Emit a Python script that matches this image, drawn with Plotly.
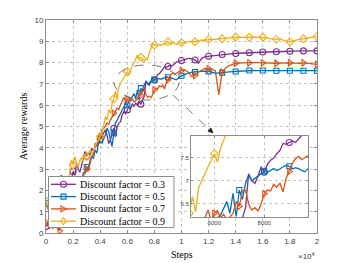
import plotly.graph_objects as go

# ---------------- data ----------------
steps = list(range(0, 10001, 125)) + list(range(10250, 20001, 250))

reward_03 = [
    0.3, 0.5, 0.2, 0.6, 0.4, 0.8, 1.0, 1.4,
    1.8, 2.73, 2.5, 2.2, 2.4, 2.3, 2.6, 2.5,
    2.89, 2.7, 3.28, 3.0, 2.85, 3.2, 3.4, 3.83,
    3.6, 3.75, 3.7, 3.98, 3.85, 4.05, 4.1, 4.3,
    4.4, 4.53, 4.7, 4.84, 4.6, 4.2, 4.37, 4.7,
    4.92, 4.5, 5.0, 5.15, 5.23, 5.55, 5.7, 5.6,
    5.78, 5.95, 5.85, 6.05, 5.95, 6.1, 6.0, 6.15,
    6.05, 6.2, 6.42, 7.15, 7.0, 6.94, 7.1, 7.3,
    7.18, 7.35, 7.44, 7.48, 7.58, 7.65, 7.8, 7.78,
    7.82, 7.86, 7.82, 7.9, 7.97, 8.02, 8.05, 8.08,
    8.1,
    8.15, 8.2, 8.18, 8.12,
    7.97, 8.2, 8.28, 8.3,
    8.32, 8.34, 8.36, 8.38,
    8.39, 8.41, 8.42, 8.43,
    8.44, 8.45, 8.46, 8.46,
    8.47, 8.48, 8.49, 8.5,
    8.5, 8.5, 8.51, 8.51,
    8.52, 8.52, 8.53, 8.53,
    8.54, 8.54, 8.55, 8.55,
    8.55, 8.55, 8.55, 8.55,
]

reward_05 = [
    1.4, 1.2, 0.9, 1.1, 0.8, 1.0, 1.2, 0.9,
    1.1, 1.4, 1.3, 1.6, 1.5, 1.8, 1.7, 2.0,
    2.2, 2.1, 2.4, 2.3, 2.6, 2.5, 2.8, 2.9,
    3.1, 3.0, 3.4, 3.59, 3.5, 3.9, 3.75, 4.2,
    4.35, 4.69, 4.4, 4.6, 4.92, 4.75, 4.4, 4.06,
    4.7, 5.16, 5.3, 5.47, 5.6, 5.8, 5.95, 6.09,
    6.0, 6.2, 6.26, 6.41, 6.55, 6.3, 6.73, 6.23,
    6.8, 6.6, 6.94, 7.12, 7.0, 7.05, 7.1, 7.16,
    7.2, 7.18, 7.23, 7.26, 7.22, 7.25, 7.3, 7.33,
    7.31, 7.25, 7.28, 7.26, 7.22, 7.19, 7.26, 7.34,
    7.38,
    7.45, 7.5, 7.55, 7.56,
    7.58, 7.57, 7.6, 7.59,
    7.55, 7.5, 7.52, 7.52,
    7.54, 7.56, 7.57, 7.58,
    7.6, 7.62, 7.63, 7.63,
    7.63, 7.62, 7.62, 7.63,
    7.63, 7.62, 7.62, 7.62,
    7.63, 7.63, 7.62, 7.62,
    7.62, 7.63, 7.63, 7.62,
    7.62, 7.63, 7.62, 7.62,
]

reward_07 = [
    0.5, 0.3, 0.6, 0.4, 0.2, 0.5, 0.3, 0.2,
    0.1, 0.4, 0.7, 0.9, 1.2, 1.1, 1.5, 1.7,
    1.9, 2.1, 2.3, 2.2, 2.5, 2.45, 2.7, 2.81,
    3.0, 2.9, 3.3, 3.59, 3.7, 4.22, 4.1, 4.4,
    4.5, 4.84, 4.9, 5.0, 5.16, 5.1, 5.3, 5.45,
    5.62, 5.7, 5.86, 5.8, 6.05, 6.2, 6.37, 6.15,
    6.3, 6.36, 6.2, 6.28, 6.15, 6.22, 6.3, 6.55,
    6.45, 6.78, 6.8, 6.5, 6.37, 6.42, 6.35, 6.5,
    6.72, 6.8, 6.78, 6.92, 6.86, 6.95, 6.76, 7.05,
    7.2, 7.38, 7.47, 7.52, 7.45, 7.5, 7.56, 7.6,
    7.63,
    7.66, 7.55, 7.34, 7.4,
    7.55, 7.65, 7.73, 7.7,
    7.68, 7.62, 6.48, 7.55,
    7.75, 7.85, 7.92, 7.97,
    7.98, 7.99, 8.0, 7.99,
    8.0, 8.01, 8.0, 7.99,
    7.97, 7.96, 7.97, 7.97,
    7.98, 7.99, 7.98, 7.99,
    7.98, 7.97, 7.96, 7.99,
    7.97, 7.95, 7.93, 7.92,
]

reward_09 = [
    1.5, 1.3, 1.1, 1.4, 1.2, 1.6, 1.4, 1.8,
    1.6, 2.0, 1.9, 2.2, 2.4, 2.2, 2.9, 3.44,
    3.2, 3.59, 3.3, 3.1, 3.4, 3.55, 3.35, 3.6,
    3.59, 3.75, 3.9, 3.7, 3.85, 4.1, 4.22, 4.4,
    4.53, 4.7, 5.0, 5.47, 5.3, 5.78, 5.62, 6.09,
    6.3, 6.66, 6.33, 6.85, 7.01, 7.16, 7.3, 7.44,
    7.58, 7.4, 7.7, 7.87, 8.0, 8.2, 8.36, 8.2,
    8.25, 8.1, 8.05, 8.2, 8.15, 8.45, 8.7, 8.9,
    8.82, 8.85, 8.78, 8.85, 8.8, 8.88, 8.85, 8.95,
    8.98, 8.9, 8.85, 8.95, 8.88, 8.85, 8.9, 8.93,
    8.94,
    8.92, 8.98, 9.0, 8.98,
    9.02, 9.06, 9.05, 9.09,
    9.08, 9.1, 9.12, 9.12,
    9.15, 9.17, 9.18, 9.19,
    9.18, 9.19, 9.2, 9.19,
    9.2, 9.19, 9.19, 9.19,
    9.17, 9.13, 9.1, 9.09,
    9.12, 9.05, 9.0, 8.98,
    9.03, 9.08, 9.1, 9.12,
    9.15, 9.2, 9.21, 9.22,
]

series_labels = ["Discount factor = 0.3", "Discount factor = 0.5",
                 "Discount factor = 0.7", "Discount factor = 0.9"]
x_tickvals = [0, 2000, 4000, 6000, 8000, 10000, 12000, 14000, 16000, 18000, 20000]
x_ticktext = ["0", "0.2", "0.4", "0.6", "0.8", "1", "1.2", "1.4", "1.6", "1.8", "2"]
marker_every = 1000

# ---------------- style ----------------
colors = ["#7E2F8E", "#0072BD", "#D95319", "#EDB120"]
symbols = ["circle-open", "square-open", "triangle-right-open", "diamond-open"]
msizes = [6, 5, 6, 6]
series = [reward_03, reward_05, reward_07, reward_09]

W, H = 350, 263
ML, MR, MT, MB = 46, 33, 20, 30
PW, PH = W - ML - MR, H - MT - MB


def X(px):
    return (px - ML) / PW


def Y(py):
    return (H - MB - py) / PH


fig = go.Figure()

for axes in [("x", "y"), ("x2", "y2")]:
    for vals, col, sym, ms in zip(series, colors, symbols, msizes):
        fig.add_trace(go.Scatter(x=steps, y=vals, mode="lines",
                                 line=dict(color=col, width=1.3),
                                 xaxis=axes[0], yaxis=axes[1], showlegend=False,
                                 hoverinfo="skip"))
        mx = [s for s in steps if s % marker_every == 0]
        my = [v for s, v in zip(steps, vals) if s % marker_every == 0]
        fig.add_trace(go.Scatter(x=mx, y=my, mode="markers",
                                 marker=dict(symbol=sym, size=ms, color=col,
                                             line=dict(color=col, width=1.1)),
                                 xaxis=axes[0], yaxis=axes[1], showlegend=False,
                                 hoverinfo="skip"))

axis_common = dict(showline=True, mirror="ticks", linecolor="#8c8c8c", linewidth=1,
                   ticks="inside", ticklen=3, tickcolor="#8c8c8c",
                   showgrid=True, gridcolor="#c4c4c4", griddash="dot", gridwidth=1,
                   zeroline=False, tickfont=dict(family="Liberation Sans, Arial", size=8,
                                                 color="#404040"))

fig.update_layout(
    width=W, height=H,
    margin=dict(l=ML, r=MR, t=MT, b=MB),
    paper_bgcolor="#ffffff", plot_bgcolor="#fffffe",
    showlegend=False,
    xaxis=dict(range=[0, 20000], tickvals=x_tickvals, ticktext=x_ticktext,
               domain=[0, 1], anchor="y", **axis_common),
    yaxis=dict(range=[0, 10], dtick=1, domain=[0, 1], anchor="x", **axis_common),
)

inset_common = dict(axis_common)
inset_common["tickfont"] = dict(family="Liberation Sans, Arial", size=6, color="#404040")
inset_common["ticklen"] = 2
fig.update_layout(
    xaxis2=dict(range=[5068, 9750], tickvals=[6000, 8000], domain=[X(191), X(308)],
                anchor="y2", **inset_common),
    yaxis2=dict(range=[6.22, 7.96], tickvals=[6.5, 7, 7.5], domain=[Y(217), Y(136)],
                anchor="x2", **inset_common),
)

shapes = []
annotations = []

# ellipse + dashed arrow
shapes.append(dict(type="circle", xref="paper", yref="paper",
                   x0=X(114), x1=X(179), y0=Y(100), y1=Y(65),
                   line=dict(color="#666666", width=0.9, dash="dash"), layer="above"))
shapes.append(dict(type="line", xref="paper", yref="paper",
                   x0=X(173), y0=Y(95), x1=X(209.5), y1=Y(129.6),
                   line=dict(color="#666666", width=0.9, dash="dash"), layer="above"))
head = (f"M {X(213)},{Y(133)} L {X(207.9)},{Y(131.2)} "
        f"L {X(210.9)},{Y(128.0)} Z")
shapes.append(dict(type="path", xref="paper", yref="paper", path=head,
                   line=dict(color="#222222", width=0.8), fillcolor="#222222",
                   layer="above"))

# legend (drawn manually for compact MATLAB-like spacing)
lx0, lx1, ly0, ly1 = 48.5, 174, 176.5, 227.5
shapes.append(dict(type="rect", xref="paper", yref="paper",
                   x0=X(lx0), x1=X(lx1), y0=Y(ly1), y1=Y(ly0),
                   line=dict(color="#8c8c8c", width=1), fillcolor="white", layer="above"))
rows = [184.3, 196.6, 208.9, 221.2]
mxp = 63.5
clear = "rgba(0,0,0,0)"
for i, (lab, col) in enumerate(zip(series_labels, colors)):
    py = rows[i]
    shapes.append(dict(type="line", xref="paper", yref="paper",
                       x0=X(51), x1=X(76), y0=Y(py), y1=Y(py),
                       line=dict(color=col, width=1.3), layer="above"))
    if i == 0:
        shapes.append(dict(type="circle", xref="paper", yref="paper",
                           x0=X(mxp - 3), x1=X(mxp + 3), y0=Y(py + 3), y1=Y(py - 3),
                           line=dict(color=col, width=1.1), fillcolor=clear,
                           layer="above"))
    elif i == 1:
        shapes.append(dict(type="rect", xref="paper", yref="paper",
                           x0=X(mxp - 2.5), x1=X(mxp + 2.5), y0=Y(py + 2.5), y1=Y(py - 2.5),
                           line=dict(color=col, width=1.1), fillcolor=clear,
                           layer="above"))
    elif i == 2:
        path = (f"M {X(mxp-2.5)},{Y(py-3)} L {X(mxp+3)},{Y(py)} "
                f"L {X(mxp-2.5)},{Y(py+3)} Z")
        shapes.append(dict(type="path", xref="paper", yref="paper", path=path,
                           line=dict(color=col, width=1.1), fillcolor=clear,
                           layer="above"))
    else:
        path = (f"M {X(mxp)},{Y(py-3.5)} L {X(mxp+3)},{Y(py)} "
                f"L {X(mxp)},{Y(py+3.5)} L {X(mxp-3)},{Y(py)} Z")
        shapes.append(dict(type="path", xref="paper", yref="paper", path=path,
                           line=dict(color=col, width=1.1), fillcolor=clear,
                           layer="above"))
    annotations.append(dict(xref="paper", yref="paper", x=X(77.5), y=Y(py),
                            xanchor="left", yanchor="middle", showarrow=False,
                            text=lab, font=dict(family="Liberation Serif, serif",
                                                size=10, color="#000000")))

# axis titles
annotations.append(dict(xref="paper", yref="paper", x=X(181.5), y=Y(254),
                        xanchor="center", yanchor="middle", showarrow=False,
                        text="Steps", font=dict(family="Liberation Serif, serif",
                                                size=10, color="#000000")))
annotations.append(dict(xref="paper", yref="paper", x=X(24), y=Y(127),
                        xanchor="center", yanchor="middle", showarrow=False,
                        textangle=-90, text="Average rewards",
                        font=dict(family="Liberation Serif, serif", size=10,
                                  color="#000000")))
annotations.append(dict(xref="paper", yref="paper", x=X(317), y=Y(256),
                        xanchor="right", yanchor="middle", showarrow=False,
                        text="×10<sup>4</sup>",
                        font=dict(family="Liberation Sans, Arial", size=8,
                                  color="#404040")))

fig.update_layout(shapes=shapes, annotations=annotations)

fig.write_html("out.html",
               config={"displayModeBar": False},
               post_script="document.body.style.margin='0';"
                           "document.body.style.overflow='hidden';")
